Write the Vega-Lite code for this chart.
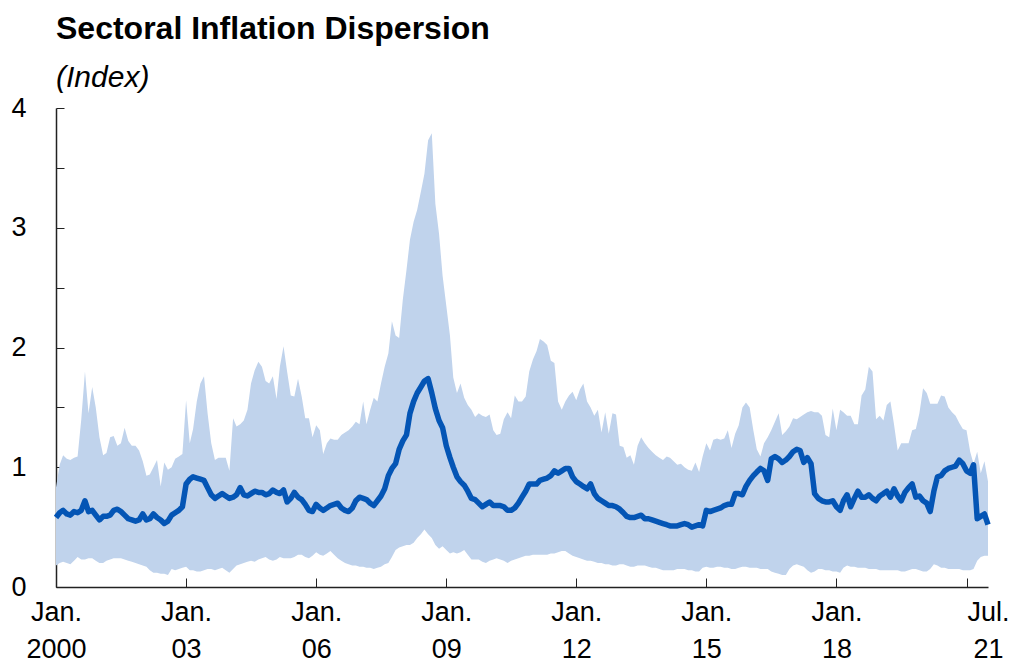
{
  "$schema": "https://vega.github.io/schema/vega-lite/v6.json",
  "width": 932,
  "height": 479,
  "autosize": {"type": "none"},
  "padding": {"left": 56, "top": 108, "right": 21, "bottom": 79},
  "background": "white",
  "title": {
    "text": "Sectoral Inflation Dispersion",
    "subtitle": "(Index)",
    "anchor": "start",
    "frame": "group",
    "font": "Liberation Sans",
    "fontSize": 32,
    "fontWeight": "bold",
    "color": "black",
    "subtitleFont": "Liberation Sans",
    "subtitleFontSize": 30,
    "subtitleFontStyle": "italic",
    "subtitleColor": "black",
    "offset": 0,
    "subtitlePadding": 17
  },
  "config": {"view": {"stroke": null}},
  "data": {"values": [
    {"d":"2000-01-01","v":0.58,"hi":0.83,"lo":0.18},{"d":"2000-02-01","v":0.62,"hi":1.02,"lo":0.20},{"d":"2000-03-01","v":0.64,"hi":1.10,"lo":0.21},{"d":"2000-04-01","v":0.61,"hi":1.07,"lo":0.20},{"d":"2000-05-01","v":0.60,"hi":1.06,"lo":0.19},{"d":"2000-06-01","v":0.63,"hi":1.08,"lo":0.22},{"d":"2000-07-01","v":0.62,"hi":1.09,"lo":0.25},{"d":"2000-08-01","v":0.64,"hi":1.40,"lo":0.23},{"d":"2000-09-01","v":0.72,"hi":1.80,"lo":0.23},{"d":"2000-10-01","v":0.63,"hi":1.45,"lo":0.24},{"d":"2000-11-01","v":0.64,"hi":1.67,"lo":0.24},{"d":"2000-12-01","v":0.60,"hi":1.50,"lo":0.22},
    {"d":"2001-01-01","v":0.56,"hi":1.25,"lo":0.20},{"d":"2001-02-01","v":0.59,"hi":1.10,"lo":0.20},{"d":"2001-03-01","v":0.59,"hi":1.12,"lo":0.22},{"d":"2001-04-01","v":0.60,"hi":1.25,"lo":0.23},{"d":"2001-05-01","v":0.64,"hi":1.26,"lo":0.24},{"d":"2001-06-01","v":0.65,"hi":1.18,"lo":0.24},{"d":"2001-07-01","v":0.63,"hi":1.20,"lo":0.24},{"d":"2001-08-01","v":0.60,"hi":1.33,"lo":0.23},{"d":"2001-09-01","v":0.57,"hi":1.22,"lo":0.22},{"d":"2001-10-01","v":0.56,"hi":1.18,"lo":0.21},{"d":"2001-11-01","v":0.55,"hi":1.18,"lo":0.20},{"d":"2001-12-01","v":0.56,"hi":1.14,"lo":0.19},
    {"d":"2002-01-01","v":0.61,"hi":1.05,"lo":0.18},{"d":"2002-02-01","v":0.56,"hi":0.93,"lo":0.17},{"d":"2002-03-01","v":0.57,"hi":0.94,"lo":0.14},{"d":"2002-04-01","v":0.61,"hi":1.00,"lo":0.12},{"d":"2002-05-01","v":0.58,"hi":1.06,"lo":0.12},{"d":"2002-06-01","v":0.56,"hi":0.84,"lo":0.11},{"d":"2002-07-01","v":0.53,"hi":1.04,"lo":0.11},{"d":"2002-08-01","v":0.55,"hi":0.98,"lo":0.10},{"d":"2002-09-01","v":0.60,"hi":1.00,"lo":0.15},{"d":"2002-10-01","v":0.62,"hi":1.07,"lo":0.14},{"d":"2002-11-01","v":0.64,"hi":1.09,"lo":0.15},{"d":"2002-12-01","v":0.67,"hi":1.11,"lo":0.16},
    {"d":"2003-01-01","v":0.86,"hi":1.56,"lo":0.17},{"d":"2003-02-01","v":0.90,"hi":1.20,"lo":0.14},{"d":"2003-03-01","v":0.92,"hi":1.32,"lo":0.14},{"d":"2003-04-01","v":0.91,"hi":1.55,"lo":0.13},{"d":"2003-05-01","v":0.90,"hi":1.70,"lo":0.13},{"d":"2003-06-01","v":0.89,"hi":1.76,"lo":0.14},{"d":"2003-07-01","v":0.83,"hi":1.45,"lo":0.15},{"d":"2003-08-01","v":0.77,"hi":1.20,"lo":0.15},{"d":"2003-09-01","v":0.74,"hi":1.06,"lo":0.14},{"d":"2003-10-01","v":0.76,"hi":1.08,"lo":0.15},{"d":"2003-11-01","v":0.78,"hi":1.08,"lo":0.16},{"d":"2003-12-01","v":0.76,"hi":1.08,"lo":0.14},
    {"d":"2004-01-01","v":0.74,"hi":0.97,"lo":0.12},{"d":"2004-02-01","v":0.75,"hi":1.41,"lo":0.15},{"d":"2004-03-01","v":0.77,"hi":1.34,"lo":0.18},{"d":"2004-04-01","v":0.83,"hi":1.36,"lo":0.19},{"d":"2004-05-01","v":0.77,"hi":1.39,"lo":0.20},{"d":"2004-06-01","v":0.76,"hi":1.48,"lo":0.21},{"d":"2004-07-01","v":0.78,"hi":1.70,"lo":0.22},{"d":"2004-08-01","v":0.80,"hi":1.81,"lo":0.21},{"d":"2004-09-01","v":0.79,"hi":1.88,"lo":0.23},{"d":"2004-10-01","v":0.79,"hi":1.84,"lo":0.24},{"d":"2004-11-01","v":0.77,"hi":1.72,"lo":0.25},{"d":"2004-12-01","v":0.78,"hi":1.70,"lo":0.23},
    {"d":"2005-01-01","v":0.81,"hi":1.76,"lo":0.22},{"d":"2005-02-01","v":0.79,"hi":1.57,"lo":0.23},{"d":"2005-03-01","v":0.78,"hi":1.84,"lo":0.25},{"d":"2005-04-01","v":0.81,"hi":2.01,"lo":0.24},{"d":"2005-05-01","v":0.71,"hi":1.80,"lo":0.24},{"d":"2005-06-01","v":0.74,"hi":1.60,"lo":0.24},{"d":"2005-07-01","v":0.79,"hi":1.59,"lo":0.25},{"d":"2005-08-01","v":0.75,"hi":1.74,"lo":0.27},{"d":"2005-09-01","v":0.73,"hi":1.59,"lo":0.27},{"d":"2005-10-01","v":0.69,"hi":1.41,"lo":0.25},{"d":"2005-11-01","v":0.64,"hi":1.41,"lo":0.24},{"d":"2005-12-01","v":0.63,"hi":1.25,"lo":0.26},
    {"d":"2006-01-01","v":0.69,"hi":1.35,"lo":0.29},{"d":"2006-02-01","v":0.66,"hi":1.31,"lo":0.27},{"d":"2006-03-01","v":0.64,"hi":1.11,"lo":0.26},{"d":"2006-04-01","v":0.66,"hi":1.20,"lo":0.28},{"d":"2006-05-01","v":0.68,"hi":1.24,"lo":0.30},{"d":"2006-06-01","v":0.69,"hi":1.23,"lo":0.27},{"d":"2006-07-01","v":0.70,"hi":1.23,"lo":0.24},{"d":"2006-08-01","v":0.66,"hi":1.27,"lo":0.22},{"d":"2006-09-01","v":0.64,"hi":1.29,"lo":0.20},{"d":"2006-10-01","v":0.63,"hi":1.31,"lo":0.19},{"d":"2006-11-01","v":0.66,"hi":1.34,"lo":0.18},{"d":"2006-12-01","v":0.72,"hi":1.38,"lo":0.18},
    {"d":"2007-01-01","v":0.75,"hi":1.36,"lo":0.17},{"d":"2007-02-01","v":0.74,"hi":1.55,"lo":0.17},{"d":"2007-03-01","v":0.73,"hi":1.36,"lo":0.16},{"d":"2007-04-01","v":0.70,"hi":1.48,"lo":0.16},{"d":"2007-05-01","v":0.68,"hi":1.58,"lo":0.15},{"d":"2007-06-01","v":0.72,"hi":1.55,"lo":0.16},{"d":"2007-07-01","v":0.76,"hi":1.70,"lo":0.17},{"d":"2007-08-01","v":0.82,"hi":1.84,"lo":0.19},{"d":"2007-09-01","v":0.93,"hi":1.95,"lo":0.20},{"d":"2007-10-01","v":0.99,"hi":2.22,"lo":0.25},{"d":"2007-11-01","v":1.03,"hi":2.10,"lo":0.31},{"d":"2007-12-01","v":1.15,"hi":2.08,"lo":0.33},
    {"d":"2008-01-01","v":1.22,"hi":2.40,"lo":0.34},{"d":"2008-02-01","v":1.27,"hi":2.65,"lo":0.35},{"d":"2008-03-01","v":1.45,"hi":2.90,"lo":0.35},{"d":"2008-04-01","v":1.55,"hi":3.05,"lo":0.37},{"d":"2008-05-01","v":1.62,"hi":3.15,"lo":0.41},{"d":"2008-06-01","v":1.67,"hi":3.30,"lo":0.44},{"d":"2008-07-01","v":1.72,"hi":3.45,"lo":0.48},{"d":"2008-08-01","v":1.74,"hi":3.73,"lo":0.44},{"d":"2008-09-01","v":1.62,"hi":3.79,"lo":0.41},{"d":"2008-10-01","v":1.49,"hi":3.20,"lo":0.35},{"d":"2008-11-01","v":1.39,"hi":2.95,"lo":0.32},{"d":"2008-12-01","v":1.33,"hi":2.60,"lo":0.34},
    {"d":"2009-01-01","v":1.18,"hi":2.35,"lo":0.31},{"d":"2009-02-01","v":1.08,"hi":2.10,"lo":0.28},{"d":"2009-03-01","v":1.00,"hi":1.75,"lo":0.29},{"d":"2009-04-01","v":0.92,"hi":1.62,"lo":0.28},{"d":"2009-05-01","v":0.88,"hi":1.70,"lo":0.29},{"d":"2009-06-01","v":0.85,"hi":1.58,"lo":0.31},{"d":"2009-07-01","v":0.80,"hi":1.52,"lo":0.27},{"d":"2009-08-01","v":0.74,"hi":1.48,"lo":0.23},{"d":"2009-09-01","v":0.73,"hi":1.42,"lo":0.23},{"d":"2009-10-01","v":0.70,"hi":1.45,"lo":0.23},{"d":"2009-11-01","v":0.67,"hi":1.43,"lo":0.21},{"d":"2009-12-01","v":0.69,"hi":1.42,"lo":0.20},
    {"d":"2010-01-01","v":0.71,"hi":1.44,"lo":0.22},{"d":"2010-02-01","v":0.68,"hi":1.31,"lo":0.23},{"d":"2010-03-01","v":0.68,"hi":1.27,"lo":0.24},{"d":"2010-04-01","v":0.68,"hi":1.28,"lo":0.23},{"d":"2010-05-01","v":0.67,"hi":1.40,"lo":0.22},{"d":"2010-06-01","v":0.64,"hi":1.46,"lo":0.20},{"d":"2010-07-01","v":0.64,"hi":1.41,"lo":0.22},{"d":"2010-08-01","v":0.66,"hi":1.60,"lo":0.23},{"d":"2010-09-01","v":0.70,"hi":1.55,"lo":0.24},{"d":"2010-10-01","v":0.75,"hi":1.55,"lo":0.25},{"d":"2010-11-01","v":0.80,"hi":1.59,"lo":0.26},{"d":"2010-12-01","v":0.86,"hi":1.80,"lo":0.26},
    {"d":"2011-01-01","v":0.86,"hi":1.90,"lo":0.27},{"d":"2011-02-01","v":0.86,"hi":1.97,"lo":0.27},{"d":"2011-03-01","v":0.89,"hi":2.07,"lo":0.27},{"d":"2011-04-01","v":0.90,"hi":2.05,"lo":0.27},{"d":"2011-05-01","v":0.91,"hi":2.02,"lo":0.27},{"d":"2011-06-01","v":0.93,"hi":1.89,"lo":0.28},{"d":"2011-07-01","v":0.97,"hi":1.87,"lo":0.28},{"d":"2011-08-01","v":0.95,"hi":1.55,"lo":0.29},{"d":"2011-09-01","v":0.97,"hi":1.48,"lo":0.30},{"d":"2011-10-01","v":0.99,"hi":1.55,"lo":0.30},{"d":"2011-11-01","v":0.99,"hi":1.60,"lo":0.28},{"d":"2011-12-01","v":0.92,"hi":1.63,"lo":0.26},
    {"d":"2012-01-01","v":0.88,"hi":1.56,"lo":0.25},{"d":"2012-02-01","v":0.86,"hi":1.65,"lo":0.24},{"d":"2012-03-01","v":0.84,"hi":1.70,"lo":0.23},{"d":"2012-04-01","v":0.82,"hi":1.55,"lo":0.22},{"d":"2012-05-01","v":0.86,"hi":1.50,"lo":0.22},{"d":"2012-06-01","v":0.78,"hi":1.43,"lo":0.21},{"d":"2012-07-01","v":0.74,"hi":1.48,"lo":0.20},{"d":"2012-08-01","v":0.72,"hi":1.29,"lo":0.20},{"d":"2012-09-01","v":0.70,"hi":1.46,"lo":0.19},{"d":"2012-10-01","v":0.68,"hi":1.28,"lo":0.19},{"d":"2012-11-01","v":0.68,"hi":1.45,"lo":0.18},{"d":"2012-12-01","v":0.67,"hi":1.44,"lo":0.18},
    {"d":"2013-01-01","v":0.65,"hi":1.18,"lo":0.19},{"d":"2013-02-01","v":0.62,"hi":1.17,"lo":0.19},{"d":"2013-03-01","v":0.59,"hi":1.08,"lo":0.18},{"d":"2013-04-01","v":0.58,"hi":1.10,"lo":0.17},{"d":"2013-05-01","v":0.58,"hi":1.02,"lo":0.17},{"d":"2013-06-01","v":0.59,"hi":1.18,"lo":0.18},{"d":"2013-07-01","v":0.60,"hi":1.25,"lo":0.18},{"d":"2013-08-01","v":0.57,"hi":1.20,"lo":0.18},{"d":"2013-09-01","v":0.57,"hi":1.16,"lo":0.17},{"d":"2013-10-01","v":0.56,"hi":1.13,"lo":0.16},{"d":"2013-11-01","v":0.55,"hi":1.10,"lo":0.16},{"d":"2013-12-01","v":0.54,"hi":1.08,"lo":0.15},
    {"d":"2014-01-01","v":0.53,"hi":1.06,"lo":0.14},{"d":"2014-02-01","v":0.52,"hi":1.09,"lo":0.14},{"d":"2014-03-01","v":0.51,"hi":1.08,"lo":0.14},{"d":"2014-04-01","v":0.51,"hi":1.05,"lo":0.14},{"d":"2014-05-01","v":0.51,"hi":1.02,"lo":0.15},{"d":"2014-06-01","v":0.52,"hi":1.03,"lo":0.15},{"d":"2014-07-01","v":0.53,"hi":1.00,"lo":0.15},{"d":"2014-08-01","v":0.52,"hi":0.98,"lo":0.14},{"d":"2014-09-01","v":0.50,"hi":0.97,"lo":0.14},{"d":"2014-10-01","v":0.51,"hi":1.04,"lo":0.13},{"d":"2014-11-01","v":0.52,"hi":0.96,"lo":0.13},{"d":"2014-12-01","v":0.51,"hi":1.09,"lo":0.16},
    {"d":"2015-01-01","v":0.64,"hi":1.20,"lo":0.17},{"d":"2015-02-01","v":0.63,"hi":1.14,"lo":0.16},{"d":"2015-03-01","v":0.64,"hi":1.23,"lo":0.16},{"d":"2015-04-01","v":0.65,"hi":1.24,"lo":0.17},{"d":"2015-05-01","v":0.66,"hi":1.23,"lo":0.17},{"d":"2015-06-01","v":0.68,"hi":1.24,"lo":0.16},{"d":"2015-07-01","v":0.69,"hi":1.31,"lo":0.16},{"d":"2015-08-01","v":0.69,"hi":1.16,"lo":0.15},{"d":"2015-09-01","v":0.78,"hi":1.28,"lo":0.15},{"d":"2015-10-01","v":0.78,"hi":1.35,"lo":0.16},{"d":"2015-11-01","v":0.77,"hi":1.50,"lo":0.17},{"d":"2015-12-01","v":0.84,"hi":1.54,"lo":0.17},
    {"d":"2016-01-01","v":0.89,"hi":1.50,"lo":0.16},{"d":"2016-02-01","v":0.93,"hi":1.31,"lo":0.16},{"d":"2016-03-01","v":0.96,"hi":1.15,"lo":0.16},{"d":"2016-04-01","v":0.99,"hi":1.09,"lo":0.15},{"d":"2016-05-01","v":0.97,"hi":1.20,"lo":0.15},{"d":"2016-06-01","v":0.89,"hi":1.25,"lo":0.15},{"d":"2016-07-01","v":1.07,"hi":1.31,"lo":0.13},{"d":"2016-08-01","v":1.09,"hi":1.38,"lo":0.12},{"d":"2016-09-01","v":1.07,"hi":1.45,"lo":0.11},{"d":"2016-10-01","v":1.04,"hi":1.27,"lo":0.10},{"d":"2016-11-01","v":1.06,"hi":1.30,"lo":0.10},{"d":"2016-12-01","v":1.09,"hi":1.34,"lo":0.15},
    {"d":"2017-01-01","v":1.13,"hi":1.41,"lo":0.18},{"d":"2017-02-01","v":1.15,"hi":1.40,"lo":0.19},{"d":"2017-03-01","v":1.14,"hi":1.42,"lo":0.18},{"d":"2017-04-01","v":1.04,"hi":1.44,"lo":0.17},{"d":"2017-05-01","v":1.08,"hi":1.46,"lo":0.14},{"d":"2017-06-01","v":1.03,"hi":1.47,"lo":0.12},{"d":"2017-07-01","v":0.78,"hi":1.46,"lo":0.13},{"d":"2017-08-01","v":0.74,"hi":1.46,"lo":0.15},{"d":"2017-09-01","v":0.72,"hi":1.43,"lo":0.15},{"d":"2017-10-01","v":0.71,"hi":1.27,"lo":0.14},{"d":"2017-11-01","v":0.71,"hi":1.25,"lo":0.14},{"d":"2017-12-01","v":0.72,"hi":1.49,"lo":0.13},
    {"d":"2018-01-01","v":0.67,"hi":1.31,"lo":0.13},{"d":"2018-02-01","v":0.64,"hi":1.48,"lo":0.12},{"d":"2018-03-01","v":0.72,"hi":1.46,"lo":0.16},{"d":"2018-04-01","v":0.77,"hi":1.43,"lo":0.18},{"d":"2018-05-01","v":0.67,"hi":1.43,"lo":0.17},{"d":"2018-06-01","v":0.74,"hi":1.36,"lo":0.17},{"d":"2018-07-01","v":0.80,"hi":1.36,"lo":0.16},{"d":"2018-08-01","v":0.75,"hi":1.60,"lo":0.16},{"d":"2018-09-01","v":0.75,"hi":1.65,"lo":0.16},{"d":"2018-10-01","v":0.77,"hi":1.84,"lo":0.15},{"d":"2018-11-01","v":0.74,"hi":1.80,"lo":0.15},{"d":"2018-12-01","v":0.72,"hi":1.40,"lo":0.15},
    {"d":"2019-01-01","v":0.76,"hi":1.43,"lo":0.14},{"d":"2019-02-01","v":0.78,"hi":1.39,"lo":0.14},{"d":"2019-03-01","v":0.80,"hi":1.52,"lo":0.14},{"d":"2019-04-01","v":0.75,"hi":1.55,"lo":0.14},{"d":"2019-05-01","v":0.82,"hi":1.36,"lo":0.14},{"d":"2019-06-01","v":0.76,"hi":1.14,"lo":0.14},{"d":"2019-07-01","v":0.72,"hi":1.20,"lo":0.13},{"d":"2019-08-01","v":0.79,"hi":1.20,"lo":0.13},{"d":"2019-09-01","v":0.83,"hi":1.20,"lo":0.14},{"d":"2019-10-01","v":0.86,"hi":1.31,"lo":0.15},{"d":"2019-11-01","v":0.75,"hi":1.32,"lo":0.15},{"d":"2019-12-01","v":0.76,"hi":1.45,"lo":0.14},
    {"d":"2020-01-01","v":0.72,"hi":1.66,"lo":0.13},{"d":"2020-02-01","v":0.70,"hi":1.62,"lo":0.13},{"d":"2020-03-01","v":0.63,"hi":1.53,"lo":0.15},{"d":"2020-04-01","v":0.80,"hi":1.53,"lo":0.19},{"d":"2020-05-01","v":0.92,"hi":1.53,"lo":0.18},{"d":"2020-06-01","v":0.93,"hi":1.60,"lo":0.16},{"d":"2020-07-01","v":0.97,"hi":1.59,"lo":0.16},{"d":"2020-08-01","v":0.99,"hi":1.50,"lo":0.15},{"d":"2020-09-01","v":1.00,"hi":1.46,"lo":0.15},{"d":"2020-10-01","v":1.01,"hi":1.43,"lo":0.15},{"d":"2020-11-01","v":1.06,"hi":1.37,"lo":0.15},{"d":"2020-12-01","v":1.03,"hi":1.32,"lo":0.14},
    {"d":"2021-01-01","v":0.97,"hi":1.31,"lo":0.14},{"d":"2021-02-01","v":0.95,"hi":1.13,"lo":0.14},{"d":"2021-03-01","v":1.02,"hi":1.03,"lo":0.15},{"d":"2021-04-01","v":0.57,"hi":1.13,"lo":0.22},{"d":"2021-05-01","v":0.59,"hi":0.95,"lo":0.25},{"d":"2021-06-01","v":0.61,"hi":1.05,"lo":0.26},{"d":"2021-07-01","v":0.52,"hi":0.88,"lo":0.26}
  ]},
  "layer": [
    {
      "mark": {"type": "area", "color": "#c0d3ec", "opacity": 1},
      "encoding": {
        "x": {
          "field": "d", "type": "temporal",
          "scale": {"type": "utc", "domain": [{"year": 2000, "month": 1, "date": 1, "utc": true}, {"year": 2021, "month": 7, "date": 1, "utc": true}], "nice": false},
          "axis": {
            "title": null,
            "grid": false,
            "values": [
              {"year": 2000, "month": 1, "date": 1, "utc": true},
              {"year": 2003, "month": 1, "date": 1, "utc": true},
              {"year": 2006, "month": 1, "date": 1, "utc": true},
              {"year": 2009, "month": 1, "date": 1, "utc": true},
              {"year": 2012, "month": 1, "date": 1, "utc": true},
              {"year": 2015, "month": 1, "date": 1, "utc": true},
              {"year": 2018, "month": 1, "date": 1, "utc": true},
              {"year": 2021, "month": 1, "date": 1, "utc": true},
              {"year": 2021, "month": 7, "date": 1, "utc": true}
            ],
            "labelExpr": "utcmonth(datum.value) == 6 ? ['Jul.', '21'] : (utcyear(datum.value) == 2021 ? '' : ['Jan.', utcyear(datum.value) == 2000 ? '2000' : utcFormat(datum.value, '%y')])",
            "labelOverlap": false,
            "labelFlush": false,
            "labelBound": false,
            "labelFont": "Liberation Sans",
            "labelFontSize": 27,
            "labelLineHeight": 37,
            "labelColor": "black",
            "labelPadding": 21,
            "domainColor": "#222222",
            "domainWidth": 1.5,
            "tickColor": "#222222",
            "tickSize": -9,
            "tickOpacity": {"condition": {"test": "utcmonth(datum.value) == 6", "value": 0}, "value": 1}
          }
        },
        "y": {
          "field": "hi", "type": "quantitative",
          "scale": {"domain": [0, 4], "nice": false, "zero": true},
          "axis": {
            "title": null,
            "grid": false,
            "values": [0, 0.5, 1, 1.5, 2, 2.5, 3, 3.5, 4],
            "format": ".0f",
            "labelExpr": "datum.value % 1 == 0 ? datum.label : ''",
            "labelFont": "Liberation Sans",
            "labelFontSize": 27,
            "labelColor": "black",
            "labelPadding": 38,
            "domainColor": "#222222",
            "domainWidth": 1.5,
            "tickColor": "#222222",
            "tickSize": -8
          }
        },
        "y2": {"field": "lo"}
      }
    },
    {
      "mark": {"type": "line", "color": "#0455b5", "strokeWidth": 5.5, "strokeJoin": "round"},
      "encoding": {
        "x": {"field": "d", "type": "temporal"},
        "y": {"field": "v", "type": "quantitative"}
      }
    }
  ]
}
